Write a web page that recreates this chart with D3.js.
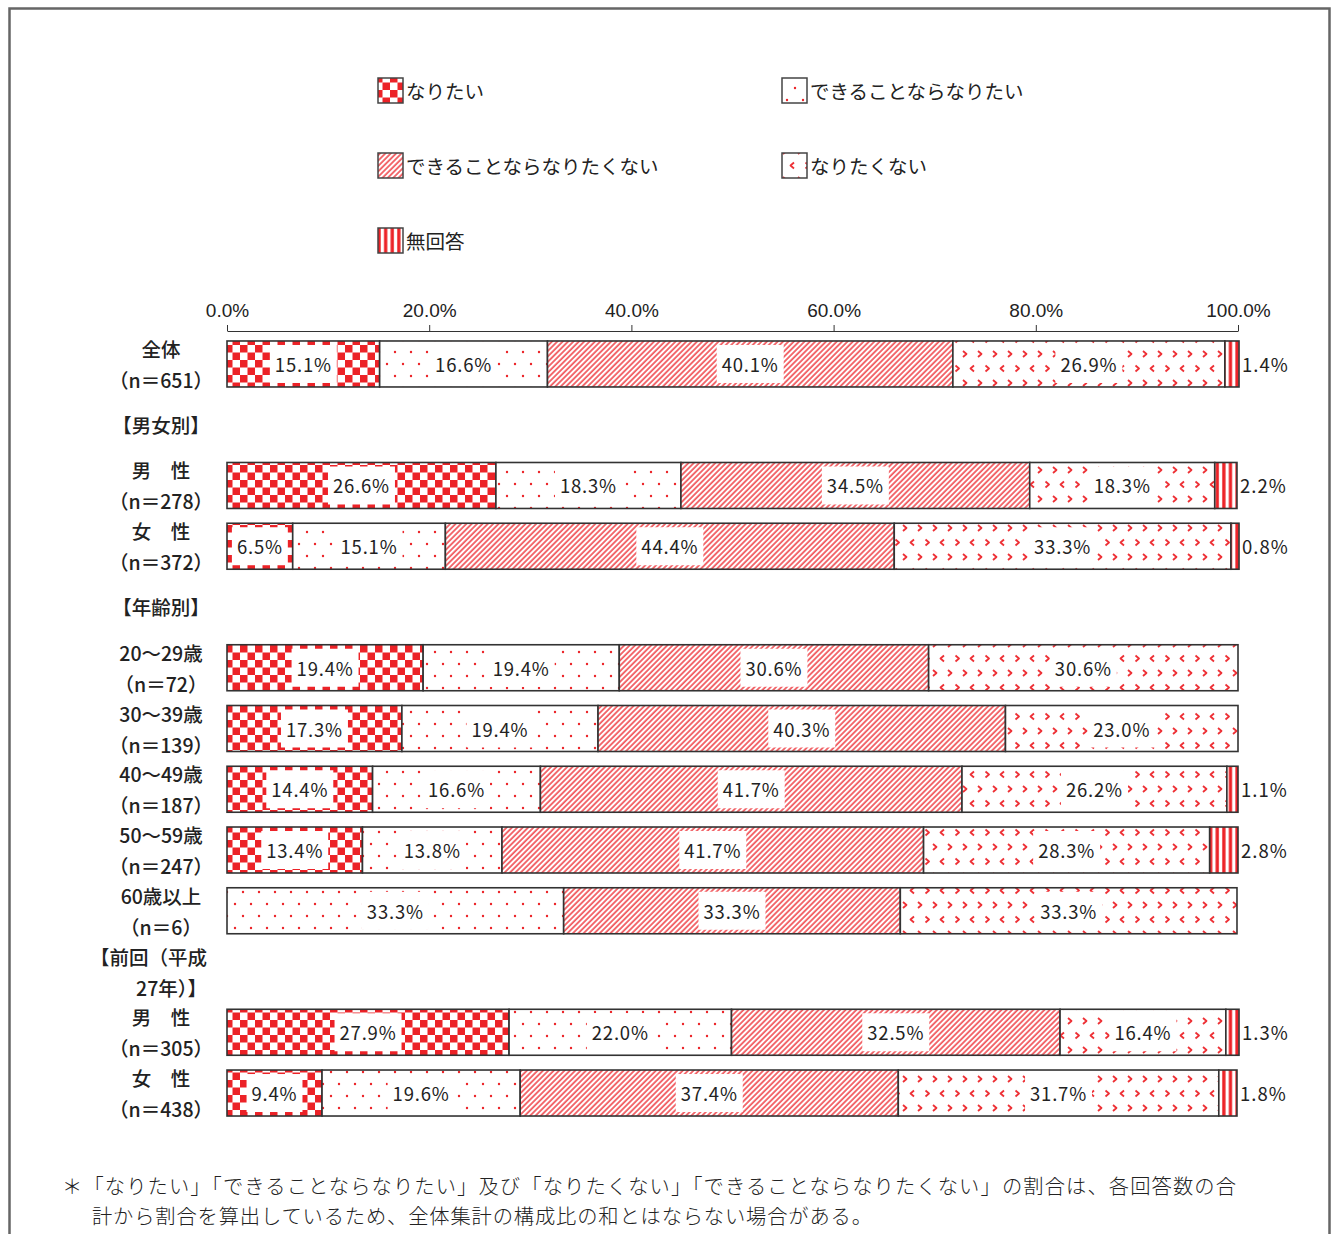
<!DOCTYPE html>
<html lang="ja">
<head>
<meta charset="utf-8">
<script src="https://cdn.jsdelivr.net/npm/d3@7"></script>
<style>
  html, body { margin: 0; padding: 0; background: #fff; }
  svg { display: block; }
</style>
</head>
<body>
<svg id="chart" width="1336" height="1234"></svg>
<script>
// Row labels (one entry per vertical slot; headers have no values)
const rowLabels = [
  ["全体", "（n＝651）"],
  ["【男女別】"],
  ["男　性", "（n＝278）"],
  ["女　性", "（n＝372）"],
  ["【年齢別】"],
  ["20～29歳", "（n＝72）"],
  ["30～39歳", "（n＝139）"],
  ["40～49歳", "（n＝187）"],
  ["50～59歳", "（n＝247）"],
  ["60歳以上", "（n＝6）"],
  ["【前回（平成", "27年）】"],
  ["男　性", "（n＝305）"],
  ["女　性", "（n＝438）"]
];
const isHeader = [false, true, false, false, true, false, false, false, false, false, true, false, false];

// Series values (%), null for header slots
const naritai        = [15.1, null, 26.6, 6.5, null, 19.4, 17.3, 14.4, 13.4, 0,    null, 27.9, 9.4];
const dekiruNaritai  = [16.6, null, 18.3, 15.1, null, 19.4, 19.4, 16.6, 13.8, 33.3, null, 22.0, 19.6];
const dekiruNaritaku = [40.1, null, 34.5, 44.4, null, 30.6, 40.3, 41.7, 41.7, 33.3, null, 32.5, 37.4];
const naritakunai    = [26.9, null, 18.3, 33.3, null, 30.6, 23.0, 26.2, 28.3, 33.3, null, 16.4, 31.7];
const mukaito        = [1.4,  null, 2.2,  0.8,  null, 0,    0,    1.1,  2.8,  0,    null, 1.3,  1.8];

const seriesNames = ["なりたい", "できることならなりたい", "できることならなりたくない", "なりたくない", "無回答"];
const seriesValues = [naritai, dekiruNaritai, dekiruNaritaku, naritakunai, mukaito];
const tickValues = [0, 20, 40, 60, 80, 100];
const footnote = [
  "＊「なりたい」「できることならなりたい」及び「なりたくない」「できることならなりたくない」の割合は、各回答数の合",
  "計から割合を算出しているため、全体集計の構成比の和とはならない場合がある。"
];

const RED = "#ec2227";
const INK = "#222";
const svg = d3.select("#chart");
const defs = svg.append("defs");

// ---- fill patterns ----
const pChk = defs.append("pattern").attr("id", "p0").attr("patternUnits", "userSpaceOnUse")
  .attr("width", 15).attr("height", 15);
pChk.append("rect").attr("width", 15).attr("height", 15).attr("fill", "#fff");
pChk.append("rect").attr("width", 7.5).attr("height", 7.5).attr("fill", RED);
pChk.append("rect").attr("x", 7.5).attr("y", 7.5).attr("width", 7.5).attr("height", 7.5).attr("fill", RED);

const pDot = defs.append("pattern").attr("id", "p1").attr("patternUnits", "userSpaceOnUse")
  .attr("width", 16).attr("height", 24);
pDot.append("rect").attr("width", 16).attr("height", 24).attr("fill", "#fff");
[[3, 4], [11, 16]].forEach(([cx, cy]) =>
  pDot.append("circle").attr("cx", cx).attr("cy", cy).attr("r", 1.2).attr("fill", RED));

const pDiag = defs.append("pattern").attr("id", "p2").attr("patternUnits", "userSpaceOnUse")
  .attr("width", 3.8).attr("height", 10).attr("patternTransform", "rotate(45)");
pDiag.append("rect").attr("width", 3.8).attr("height", 10).attr("fill", "#fff");
pDiag.append("line").attr("x1", 1).attr("x2", 1).attr("y1", 0).attr("y2", 10)
  .attr("stroke", "#f04a4f").attr("stroke-width", 1.6);

// chevrons: alternating ">" and "<" marks on a staggered grid
const pChev = defs.append("pattern").attr("id", "p3").attr("patternUnits", "userSpaceOnUse")
  .attr("width", 30).attr("height", 29);
pChev.append("rect").attr("width", 30).attr("height", 29).attr("fill", "#fff");
[[3, 3, 1], [18, 3, 1], [10.5, 17.5, -1], [25.5, 17.5, 1]].forEach(([x, y, dir]) => {
  const d = dir > 0 ? `M${x},${y} L${x + 3.5},${y + 3} L${x},${y + 6}`
                    : `M${x + 3.5},${y} L${x},${y + 3} L${x + 3.5},${y + 6}`;
  pChev.append("path").attr("d", d).attr("fill", "none").attr("stroke", "#ee3035")
    .attr("stroke-width", 1.8).attr("stroke-linejoin", "round");
});

const pVert = defs.append("pattern").attr("id", "p4").attr("patternUnits", "userSpaceOnUse")
  .attr("width", 6.6).attr("height", 10);
pVert.append("rect").attr("width", 6.6).attr("height", 10).attr("fill", "#fff");
pVert.append("rect").attr("x", 1.2).attr("width", 3.3).attr("height", 10).attr("fill", RED);

const fills = seriesNames.map((_, i) => `url(#p${i})`);

// ---- outer frame ----
svg.append("path").attr("d", "M9.5,1234 V8.5 H1329.5 V1234")
  .attr("fill", "none").attr("stroke", "#666").attr("stroke-width", 2.5);

// ---- legend ----
const legendPos = [[378, 78], [782, 78], [378, 153], [782, 153], [378, 228]];
const legend = svg.append("g");
seriesNames.forEach((name, i) => {
  const [lx, ly] = legendPos[i];
  legend.append("rect").attr("x", lx).attr("y", ly).attr("width", 25).attr("height", 25)
    .attr("fill", fills[i]).attr("stroke", "#444").attr("stroke-width", 1.5);
  legend.append("text").attr("x", lx + 28).attr("y", ly + 12)
    .attr("dominant-baseline", "central")
    .attr("font-family", "'Noto Sans CJK JP', sans-serif").attr("font-size", 19.5)
    .attr("fill", INK).text(name);
});

// ---- scales ----
const x = d3.scaleLinear().domain([0, 100]).range([227, 1238]);
const y = d3.scaleBand().domain(d3.range(rowLabels.length)).range([333.6, 1123.4])
  .paddingInner(0.243).paddingOuter(0.1215);

// ---- axis ----
const axis = svg.append("g").attr("transform", "translate(0,331)")
  .call(d3.axisTop(x).tickValues(tickValues).tickFormat(d => d.toFixed(1) + "%")
    .tickSizeInner(6).tickSizeOuter(0).tickPadding(8));
axis.select(".domain").attr("stroke", "#333");
axis.selectAll(".tick line").attr("stroke", "#333");
axis.selectAll(".tick text").attr("fill", INK)
  .attr("font-family", "'Liberation Sans Narrow', 'Liberation Sans', sans-serif")
  .attr("font-size", 19);

// ---- row labels ----
const labels = svg.append("g").attr("font-family", "'Noto Sans CJK JP', sans-serif")
  .attr("font-size", 19.5).attr("fill", INK);
rowLabels.forEach((lines, r) => {
  const cy = y(r) + y.bandwidth() / 2;
  const prevHeader = r === 10;
  lines.forEach((t, k) => {
    const off = lines.length === 1 ? 0 : (k === 0 ? -15.5 : 15.5);
    labels.append("text")
      .attr("x", prevHeader ? 207 : 161)
      .attr("y", cy + off)
      .attr("text-anchor", prevHeader ? "end" : "middle")
      .attr("dominant-baseline", "central")
      .attr("font-weight", 500)
      .text(t);
  });
});

// ---- stacked bars ----
const barRows = d3.range(rowLabels.length).filter(r => !isHeader[r]);
const stacked = barRows.map(r => {
  let acc = 0;
  return seriesValues.map((vals, s) => {
    const seg = { row: r, s, v: vals[r], x0: acc, x1: acc + vals[r] };
    acc += vals[r];
    return seg;
  }).filter(seg => seg.v > 0);
});

const bars = svg.append("g");
stacked.forEach(segs => {
  const g = bars.append("g");
  g.selectAll("rect").data(segs).join("rect")
    .attr("x", d => x(d.x0)).attr("y", d => y(d.row))
    .attr("width", d => x(d.x1) - x(d.x0)).attr("height", y.bandwidth())
    .attr("fill", d => fills[d.s]).attr("stroke", "#333").attr("stroke-width", 1.6);
});

// ---- value labels ----
const valueLayer = svg.append("g").attr("font-family", "'Noto Sans CJK JP', sans-serif")
  .attr("font-size", 18.5).attr("fill", INK);
stacked.flat().forEach(d => {
  const cy = y(d.row) + y.bandwidth() / 2;
  const txt = d.v.toFixed(1) + "%";
  if (d.s === 4) {
    valueLayer.append("text").attr("x", x(d.x1) + 3).attr("y", cy)
      .attr("dominant-baseline", "central").attr("letter-spacing", 1).text(txt);
    return;
  }
  const cx = (x(d.x0) + x(d.x1)) / 2;
  const box = valueLayer.append("rect").attr("fill", "#fff");
  const t = valueLayer.append("text").attr("x", cx).attr("y", cy)
    .attr("text-anchor", "middle").attr("dominant-baseline", "central")
    .attr("letter-spacing", 0.8).text(txt);
  const w = t.node().getComputedTextLength() + 10;
  box.attr("x", cx - w / 2).attr("y", y(d.row) + 4).attr("width", w).attr("height", y.bandwidth() - 8);
});

// ---- footnote ----
const note = svg.append("g").attr("font-family", "'Noto Sans CJK JP', sans-serif")
  .attr("font-size", 20.3).attr("font-weight", 300).attr("fill", INK);
note.append("text").attr("x", 62).attr("y", 1185).attr("dominant-baseline", "central")
  .attr("textLength", 1174).attr("lengthAdjust", "spacing").text(footnote[0]);
note.append("text").attr("x", 92).attr("y", 1215).attr("dominant-baseline", "central")
  .attr("textLength", 780).attr("lengthAdjust", "spacing").text(footnote[1]);
</script>
</body>
</html>
